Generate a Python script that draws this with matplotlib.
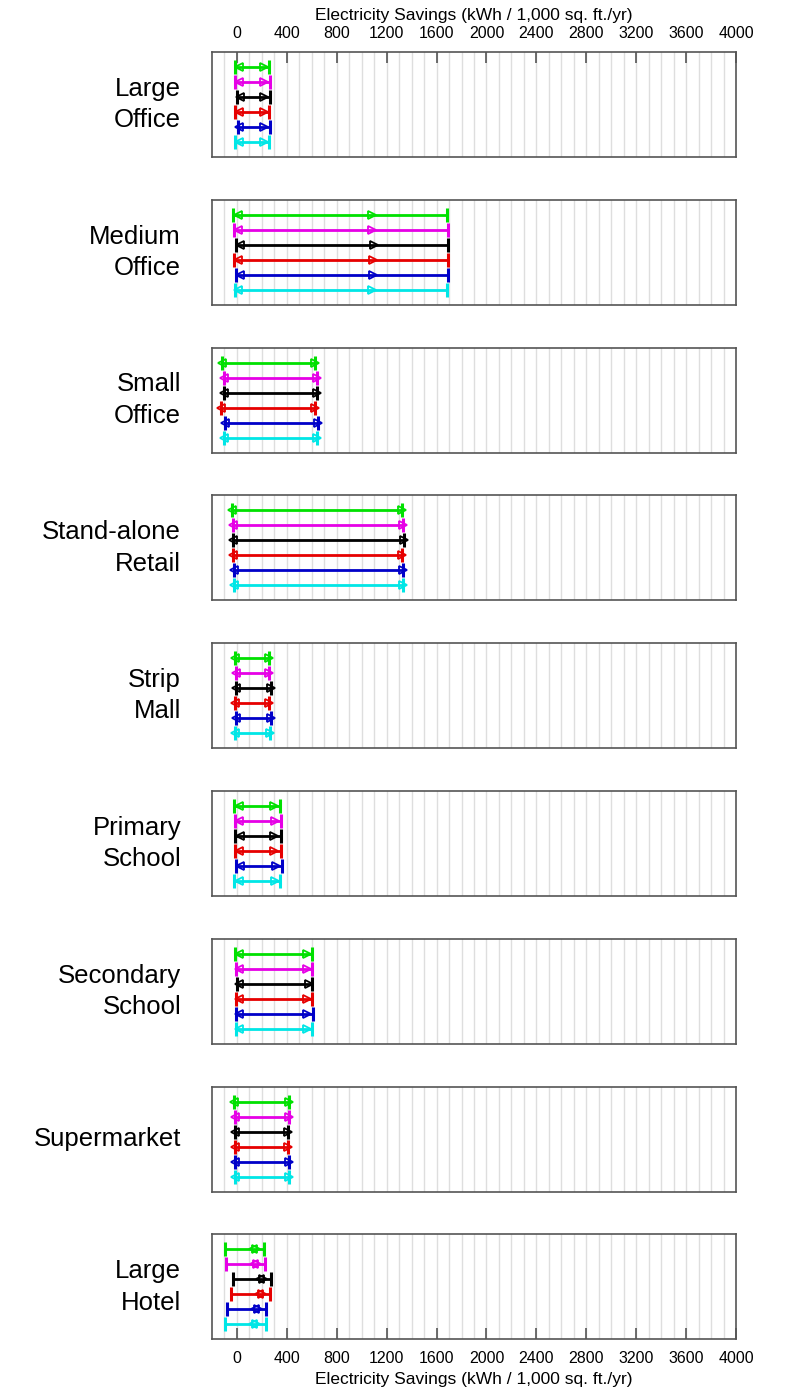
import matplotlib.pyplot as plt
import numpy as np

plt.rcParams['font.family'] = ['Liberation Sans', 'DejaVu Sans']

# buildings, top to bottom
buildings = ['Large\nOffice', 'Medium\nOffice', 'Small\nOffice', 'Stand-alone\nRetail',
             'Strip\nMall', 'Primary\nSchool', 'Secondary\nSchool', 'Supermarket',
             'Large\nHotel']

# series colours, top to bottom inside each panel
colors = ['#00e000', '#e600e6', '#000000', '#e60000', '#0000c8', '#00e6e6']

# range ends (min / max) for each building, six series each
lo = [
    [-13, -13, -3, -13, 5, -13],
    [-29, -21, -11, -21, -11, -19],
    [-123, -107, -107, -128, -96, -101],
    [-40, -29, -35, -35, -24, -27],
    [-13, -8, -8, -13, -8, -13],
    [-27, -16, -16, -13, -8, -21],
    [-16, -8, -3, -8, -8, -8],
    [-21, -13, -13, -13, -16, -13],
    [-96, -88, -35, -48, -80, -93],
]
hi = [
    [258, 262, 262, 258, 262, 258],
    [1685, 1690, 1693, 1693, 1693, 1685],
    [627, 645, 640, 627, 651, 645],
    [1325, 1333, 1339, 1325, 1333, 1333],
    [258, 258, 272, 258, 272, 263],
    [344, 357, 352, 352, 365, 344],
    [605, 605, 605, 605, 612, 605],
    [419, 419, 413, 411, 419, 419],
    [213, 224, 272, 264, 232, 232],
]
# left-pointing marker values
lt = [
    [15, 15, 25, 15, 20, 15],
    [5, 5, 27, 10, 27, 10],
    [-123, -107, -107, -128, -96, -101],
    [-40, -29, -35, -35, -24, -27],
    [-13, -8, -8, -13, -8, -13],
    [19, 19, 27, 19, 27, 19],
    [13, 13, 20, 13, 20, 13],
    [-21, -13, -13, -13, -16, -13],
    [127, 135, 188, 175, 148, 132],
]
# right-pointing marker values
gt = [
    [220, 220, 215, 215, 216, 220],
    [1085, 1085, 1099, 1090, 1090, 1085],
    [627, 645, 640, 627, 651, 645],
    [1325, 1333, 1339, 1325, 1333, 1333],
    [258, 258, 272, 258, 272, 263],
    [299, 307, 299, 299, 312, 304],
    [565, 565, 580, 565, 565, 565],
    [419, 419, 413, 411, 419, 419],
    [151, 159, 212, 199, 172, 156],
]

xticks = np.arange(0, 4001, 400)
grid_x = np.arange(-100, 4000, 100)
xlabel = 'Electricity Savings (kWh / 1,000 sq. ft./yr)'

W, H = 800, 1393
fig = plt.figure(figsize=(W / 100, H / 100), dpi=100)

left, right = 212, 736
top0, step, ph = 52, 147.8, 105
n = len(buildings)

for i, name in enumerate(buildings):
    top = top0 + i * step
    ax = fig.add_axes([left / W, 1 - (top + ph) / H, (right - left) / W, ph / H])
    ax.set_xlim(-200, 4000)
    ax.set_ylim(7, 0)
    for gx in grid_x:
        ax.axvline(gx, color='#dedede', lw=1, zorder=0)
    for j, c in enumerate(colors):
        y = j + 1
        ax.plot([lo[i][j], hi[i][j]], [y, y], color=c, lw=2, zorder=2)
        ax.plot([lo[i][j], hi[i][j]], [y, y], ls='none', marker='|', ms=10,
                mew=2.2, color=c, zorder=3)
        ax.plot([lt[i][j]], [y], ls='none', marker='<', ms=5.5, mew=1.3,
                mfc='none', mec=c, zorder=4)
        ax.plot([gt[i][j]], [y], ls='none', marker='>', ms=5.5, mew=1.3,
                mfc='none', mec=c, zorder=4)
    for s in ax.spines.values():
        s.set_color('#555555')
        s.set_linewidth(1.2)
    ax.set_yticks([])
    ax.set_xticks(xticks)
    if i == 0:
        ax.xaxis.tick_top()
        ax.xaxis.set_label_position('top')
        ax.tick_params(axis='x', direction='in', length=8, width=1.2,
                       color='#555555', labelsize=11.5, pad=8)
        ax.set_xlabel(xlabel, fontsize=12.5, labelpad=4)
    elif i == n - 1:
        ax.tick_params(axis='x', direction='in', length=8, width=1.2,
                       color='#555555', labelsize=11.5, pad=8)
        ax.set_xlabel(xlabel, fontsize=12.5, labelpad=5)
    else:
        ax.set_xticks([])
    ax.text(-0.059, 0.5, name, transform=ax.transAxes, ha='right', va='center',
            fontsize=18.5, linespacing=1.38)

fig.savefig('out.png', dpi=100)
